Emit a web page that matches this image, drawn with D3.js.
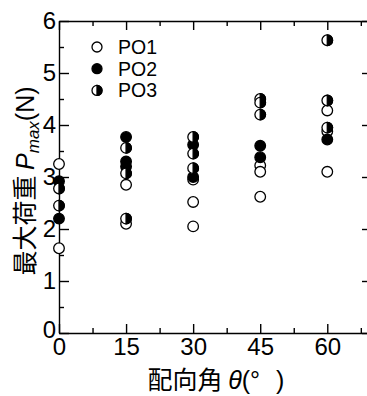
<!DOCTYPE html>
<html><head><meta charset="utf-8">
<script src="https://cdn.jsdelivr.net/npm/d3@7"></script>
<style>body{margin:0;background:#fff}svg{display:block}</style>
</head><body>
<script>
// ---- data ----
const angles = [0, 15, 30, 45, 60];
const po1 = [[3.25, 1.63], [2.85, 2.1], [2.95, 2.52, 2.05], [3.22, 3.1, 2.62], [4.28, 3.88, 3.1]];
const po2 = [[2.92, 2.2], [3.77, 3.3, 3.2], [3.62, 3.0], [3.6, 3.38], [3.72]];
const po3 = [[2.78, 2.45], [3.56, 3.07, 2.2], [3.77, 3.45, 3.17], [4.5, 4.43, 4.2], [5.63, 4.47, 3.95]];
const seriesNames = ["PO1", "PO2", "PO3"];
const xTicks = [0, 15, 30, 45, 60];
const xMinor = [7.5, 22.5, 37.5, 52.5, 67.5];
const yTicks = [0, 1, 2, 3, 4, 5, 6];
const yMinor = [0.5, 1.5, 2.5, 3.5, 4.5, 5.5];

const W = 367, H = 396;
const m = {left: 59, top: 21, right: 372, bottom: 333};
const x = d3.scaleLinear().domain([0, 70]).range([m.left, m.right]);
const y = d3.scaleLinear().domain([0, 6]).range([m.bottom, m.top]);

const svg = d3.select("body").append("svg").attr("width", W).attr("height", H);
const num = "'Liberation Sans', Arial, sans-serif";
const cjk = "'Noto Sans CJK JP', sans-serif";
const fmt = d3.format("d");

function styleAxis(g) {
  g.selectAll("path,line").attr("stroke", "#000").attr("stroke-width", 1.4);
  g.selectAll("text").attr("fill", "#000").style("font-family", num).style("font-size", "24px");
}
// bottom
svg.append("g").attr("transform", `translate(0,${m.bottom})`)
  .call(d3.axisBottom(x).tickValues(xTicks).tickFormat(fmt).tickSizeInner(-9).tickSizeOuter(0).tickPadding(5)).call(styleAxis);
svg.append("g").attr("transform", `translate(0,${m.bottom})`)
  .call(d3.axisBottom(x).tickValues(xMinor).tickSizeInner(-5).tickSizeOuter(0).tickFormat("")).call(styleAxis)
  .select(".domain").remove();
// top
svg.append("g").attr("transform", `translate(0,${m.top})`)
  .call(d3.axisTop(x).tickValues(xTicks).tickSizeInner(-9).tickSizeOuter(0).tickFormat("")).call(styleAxis);
svg.append("g").attr("transform", `translate(0,${m.top})`)
  .call(d3.axisTop(x).tickValues(xMinor).tickSizeInner(-5).tickSizeOuter(0).tickFormat("")).call(styleAxis)
  .select(".domain").remove();
// left
const yAx = svg.append("g").attr("transform", `translate(${m.left},0)`)
  .call(d3.axisLeft(y).tickValues(yTicks).tickFormat(fmt).tickSizeInner(-10).tickSizeOuter(0).tickPadding(3)).call(styleAxis);
yAx.selectAll(".tick text").filter(d => d === 0).attr("dy", "0.2em");
svg.append("g").attr("transform", `translate(${m.left},0)`)
  .call(d3.axisLeft(y).tickValues(yMinor).tickSizeInner(-5).tickSizeOuter(0).tickFormat("")).call(styleAxis)
  .select(".domain").remove();
// right
svg.append("g").attr("transform", `translate(${m.right},0)`)
  .call(d3.axisRight(y).tickValues(yTicks).tickSizeInner(-10).tickSizeOuter(0).tickFormat("")).call(styleAxis);
svg.append("g").attr("transform", `translate(${m.right},0)`)
  .call(d3.axisRight(y).tickValues(yMinor).tickSizeInner(-5).tickSizeOuter(0).tickFormat("")).call(styleAxis)
  .select(".domain").remove();

// markers
const R = 5.3;
function marker(g, cx, cy, type, r) {
  if (type === 0) {
    g.append("circle").attr("cx", cx).attr("cy", cy).attr("r", r).attr("fill", "#fff").attr("stroke", "#000").attr("stroke-width", 1.3);
  } else if (type === 1) {
    g.append("circle").attr("cx", cx).attr("cy", cy).attr("r", r).attr("fill", "#000").attr("stroke", "#000").attr("stroke-width", 1.3);
  } else {
    g.append("circle").attr("cx", cx).attr("cy", cy).attr("r", r).attr("fill", "#fff").attr("stroke", "#000").attr("stroke-width", 1.3);
    g.append("path").attr("d", `M${cx},${cy - r} A${r},${r} 0 0 1 ${cx},${cy + r} Z`)
      .attr("fill", "#000").attr("stroke", "#000").attr("stroke-width", 1.3);
  }
}
const pts = svg.append("g");
[po1, po2, po3].forEach((ser, si) => {
  ser.forEach((vals, ai) => {
    vals.forEach(v => marker(pts, x(angles[ai]), y(v), si, R));
  });
});

// legend
const lg = svg.append("g");
seriesNames.forEach((n, i) => {
  const ly = 47 + i * 21.7;
  marker(lg, 97, ly, i, 5);
  lg.append("text").attr("x", 118).attr("y", ly).attr("dy", "0.35em")
    .style("font-family", num).style("font-size", "19.5px").text(n);
});

// x title
const xt = svg.append("text").attr("x", 216).attr("y", 389).attr("text-anchor", "middle")
  .style("font-size", "25px").style("font-family", cjk);
xt.append("tspan").text("配向角 ");
xt.append("tspan").style("font-family", num).style("font-style", "italic").text("θ");
xt.append("tspan").style("font-family", num).text("(°");
xt.append("tspan").style("font-family", num).attr("dx", 16).text(")");

// y title
const yt = svg.append("text").attr("transform", "translate(34,181) rotate(-90)").attr("text-anchor", "middle")
  .style("font-size", "25px").style("font-family", cjk);
yt.append("tspan").text("最大荷重 ");
yt.append("tspan").style("font-family", num).style("font-style", "italic").text("P");
yt.append("tspan").style("font-family", num).style("font-style", "italic").style("font-size", "17px").attr("dy", 5).text("max");
yt.append("tspan").style("font-family", num).attr("dy", -5).text("(N)");
</script>
</body></html>
